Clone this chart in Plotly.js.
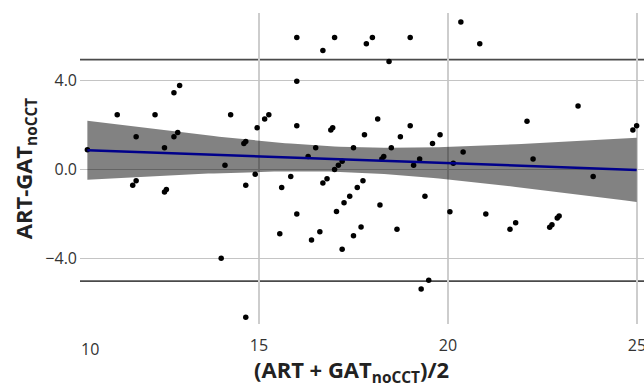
<!DOCTYPE html>
<html>
<head>
<meta charset="utf-8">
<script src="https://cdn.plot.ly/plotly-3.0.1.min.js"></script>
<style>html,body{margin:0;padding:0;background:#fff;}#chart{width:644px;height:392px;}</style>
</head>
<body>
<div id="chart"></div>
<script>
// Mean of ART and GAT_noCCT (x) and their difference (y)
const meanVals = [10.46,11.25,12.25,12.90,12.75,11.75,12.85,12.75,12.50,14.25,
  14.95,15.15,15.26,14.65,14.60,14.10,16.00,16.00,16.00,16.69,
  17.00,17.84,18.00,18.44,19.00,18.14,19.00,16.95,16.90,17.79,
  18.74,19.79,19.59,16.50,17.50,18.50,16.30,18.30,18.25,19.25,
  19.09,17.20,17.10,17.00,20.34,20.84,22.09,23.44,24.89,24.99,
  20.40,20.14,22.25,23.84,20.05,21.00,21.79,21.64,22.69,22.75,
  22.89,22.94,15.60,15.84,16.69,16.80,16.00,15.55,16.39,16.61,
  17.05,17.25,17.40,17.60,17.75,18.20,19.39,17.20,17.50,17.70,
  18.65,19.29,19.49,14.90,14.65,11.66,11.75,12.50,12.55,14.00,
  14.65];
const diffVals = [0.89,2.47,2.47,3.78,3.46,1.48,1.67,1.48,0.98,2.47,
  1.88,2.27,2.47,1.26,1.17,0.19,5.95,3.97,1.97,5.36,
  5.95,5.66,5.95,4.86,5.95,2.27,1.97,1.88,1.78,1.57,
  1.48,1.57,1.17,0.98,0.98,0.98,0.59,0.59,0.47,0.47,
  0.19,0.37,0.19,0.00,6.65,5.66,2.17,2.86,1.78,1.97,
  0.79,0.28,0.47,-0.32,-1.90,-2.00,-2.40,-2.69,-2.60,-2.49,
  -2.19,-2.10,-0.81,-0.32,-0.61,-0.42,-2.00,-2.89,-3.18,-2.80,
  -1.89,-1.50,-1.20,-0.81,-0.51,-1.60,-1.21,-3.59,-2.99,-2.59,
  -2.69,-5.38,-4.99,-0.21,-0.71,-0.71,-0.51,-1.01,-0.90,-4.00,
  -6.66];
// Limits of agreement (horizontal reference lines)
const loaVals = [4.95, -5.03];
// Tick values / labels
const xTickVals = [15, 20, 25];
const xTickText = ['15', '20', '25'];
const xFirstLabel = '10';
const yTickVals = [-4, 0, 4];
const xTitle = '(ART + GAT<sub>noCCT</sub>)/2';
const yTitle = 'ART-GAT<sub>noCCT</sub>';

// Ordinary least squares fit with 95% confidence band
const n = meanVals.length;
const xbar = meanVals.reduce((a,b)=>a+b,0)/n;
const ybar = diffVals.reduce((a,b)=>a+b,0)/n;
let sxx=0, sxy=0;
for (let i=0;i<n;i++){ sxx += (meanVals[i]-xbar)**2; sxy += (meanVals[i]-xbar)*(diffVals[i]-ybar); }
const slope = sxy/sxx, icpt = ybar - slope*xbar;
let sse=0;
for (let i=0;i<n;i++){ sse += (diffVals[i]-(icpt+slope*meanVals[i]))**2; }
const s = Math.sqrt(sse/(n-2));
const tval = 1.987;
const xmin = Math.min(...meanVals), xmax = Math.max(...meanVals);
const gx=[], gy=[], gu=[], gl=[];
for (let k=0;k<=100;k++){
  const x = xmin + (xmax-xmin)*k/100;
  const yh = icpt + slope*x;
  const se = s*Math.sqrt(1/n + (x-xbar)**2/sxx);
  gx.push(x); gy.push(yh); gu.push(yh+tval*se); gl.push(yh-tval*se);
}

const traces = [
  {x: gx, y: gl, mode:'lines', line:{width:0}, hoverinfo:'skip', showlegend:false},
  {x: gx, y: gu, mode:'lines', line:{width:0}, fill:'tonexty', fillcolor:'rgba(0,0,0,0.49)', hoverinfo:'skip', showlegend:false},
  {x: meanVals, y: diffVals, mode:'markers', marker:{color:'#000', size:5.5}, showlegend:false},
  {x: gx, y: gy, mode:'lines', line:{color:'#00008b', width:2.5}, showlegend:false}
];

const shapes = loaVals.map(v => ({type:'line', xref:'paper', x0:0, x1:1, yref:'y', y0:v, y1:v,
  line:{color:'#4a4a4a', width:1.6}, layer:'below'}));

const titleFont = {size:22, color:'#222', family:'"Open Sans", sans-serif', weight:'bold'};
const tickFont = {size:16, color:'#333', family:'"Open Sans", sans-serif'};

const layout = {
  width:644, height:392,
  margin:{l:80, r:0, t:13, b:68},
  paper_bgcolor:'#fff', plot_bgcolor:'#fff',
  font:{family:'"Open Sans", sans-serif', color:'#333'},
  showlegend:false,
  xaxis:{range:[10.265, 25.185], tickvals:xTickVals, ticktext:xTickText, showgrid:true,
    gridcolor:'#cdcdcd', gridwidth:1.6, zeroline:false, showline:false, ticks:'',
    tickfont:tickFont, ticklabelstandoff:10, ticklabeloverflow:'allow'},
  yaxis:{range:[-6.96, 7.05], tickvals:yTickVals, tickformat:'.1f', showgrid:true,
    gridcolor:'#c4c4c4', gridwidth:1.2, zeroline:false, showline:false, ticks:'',
    tickfont:tickFont, ticklabelstandoff:2, ticklabeloverflow:'allow',
    title:{text:yTitle, font:titleFont, standoff:6}},
  shapes: shapes,
  annotations:[
    {xref:'x', yref:'paper', x:10.53, y:0, yshift:-12, yanchor:'top', xanchor:'center',
      text:xFirstLabel, showarrow:false, font:tickFont},
    {xref:'paper', yref:'paper', x:0.482, y:0, yshift:-28, yanchor:'top', xanchor:'center',
      text:xTitle, showarrow:false, font:titleFont}
  ]
};

Plotly.newPlot('chart', traces, layout, {displayModeBar:false, staticPlot:true});
</script>
</body>
</html>
